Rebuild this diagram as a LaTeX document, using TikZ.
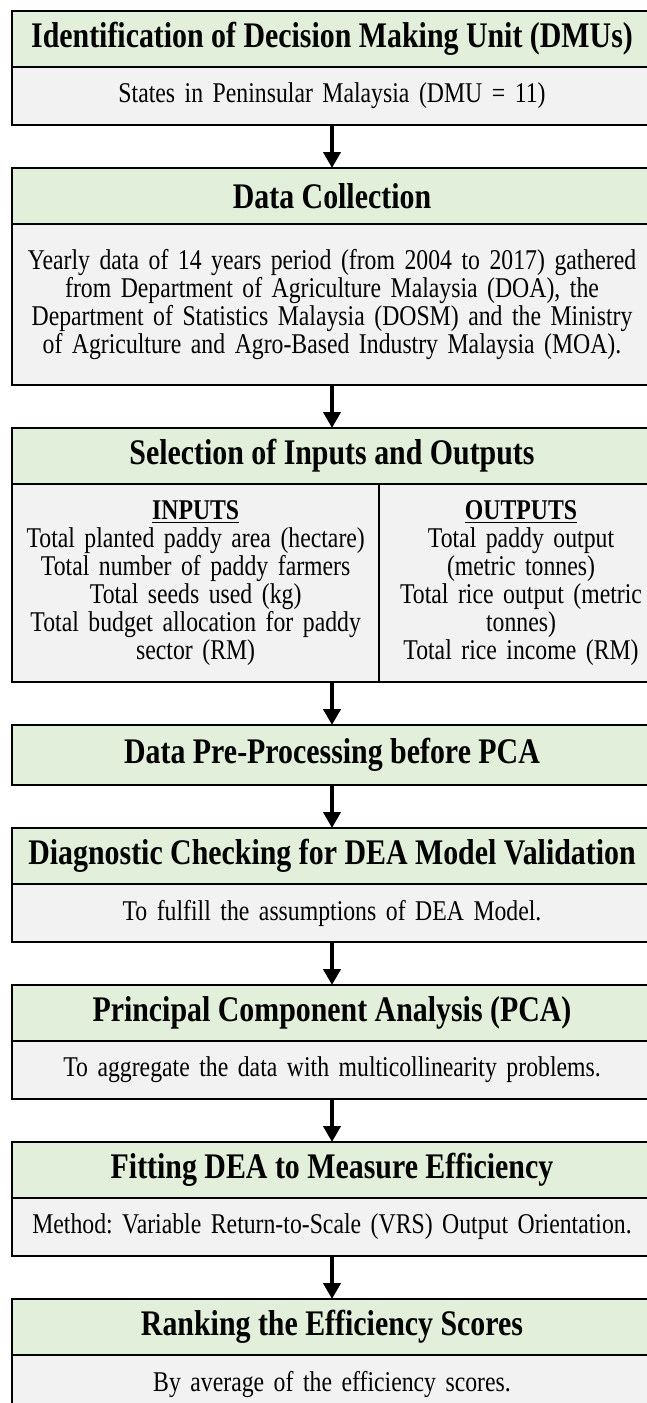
\documentclass[tikz,border=0pt]{standalone}
\usepackage{fontspec}
\setmainfont{Liberation Serif}[FakeStretch=0.83]
\usetikzlibrary{positioning}
\usetikzlibrary{arrows.meta}

\definecolor{headgreen}{HTML}{E2EFDA}
\definecolor{bodygrey}{HTML}{F2F2F2}

\begin{document}
\frenchspacing
\begin{tikzpicture}[
    node distance=21.5pt,
    every node/.style={font=\fontsize{14.3}{14}\selectfont},
    head/.style={rectangle, draw, line width=1pt, fill=headgreen, outer sep=0pt, minimum width=320pt, minimum height=28pt, font=\fontsize{18}{18}\selectfont\bfseries},
    body/.style={rectangle, draw, line width=1pt, fill=bodygrey, outer sep=0pt, minimum width=320pt, minimum height=29pt, text width=312pt, align=center},
    col/.style={rectangle, draw, line width=1pt, fill=bodygrey, outer sep=0pt, minimum height=99pt, align=center, anchor=north west},
    line/.style={-{Triangle[length=8pt, width=8.5pt]}, line width=2pt}
]

\useasboundingbox (0,0) rectangle (323.5pt,-701.5pt);
\clip (0,0) rectangle (323.5pt,-701.5pt);

% Decision making units
\node[head, anchor=north] (dmuHead) at (166pt,-5.5pt) {Identification of Decision Making Unit (DMUs)};
\node[body, below=0pt of dmuHead] (dmuBody) {States in Peninsular Malaysia (DMU = 11)};

% Data collection
\node[head, below=of dmuBody] (collHead) {Data Collection};
\node[body, below=0pt of collHead, minimum height=80.5pt] (collBody) {Yearly data of 14 years period (from 2004 to 2017) gathered\\from Department of Agriculture Malaysia (DOA), the\\Department of Statistics Malaysia (DOSM) and the Ministry\\of Agriculture and Agro-Based Industry Malaysia (MOA).};

% Inputs and outputs in two columns
\node[head, below=of collBody] (selHead) {Selection of Inputs and Outputs};
\node[col, minimum width=181pt, text width=177pt] (inBody) at (selHead.south west) {\textbf{\underline{INPUTS}}\\Total planted paddy area (hectare)\\Total number of paddy farmers\\Total seeds used (kg)\\Total budget allocation for paddy\\sector (RM)};
\node[col, minimum width=139pt, text width=135pt] (outBody) at (inBody.north east) {\textbf{\underline{OUTPUTS}}\\Total paddy output\\(metric tonnes)\\Total rice output (metric\\tonnes)\\Total rice income (RM)};
\coordinate (selEnd) at (selHead.center |- inBody.south);

% Pre-processing
\node[head, below=of selEnd, minimum height=30pt] (preHead) {Data Pre-Processing before PCA};

% Diagnostic checking
\node[head, below=of preHead] (diagHead) {Diagnostic Checking for DEA Model Validation};
\node[body, below=0pt of diagHead] (diagBody) {To fulfill the assumptions of DEA Model.};

% PCA
\node[head, below=of diagBody] (pcaHead) {Principal Component Analysis (PCA)};
\node[body, below=0pt of pcaHead] (pcaBody) {To aggregate the data with multicollinearity problems.};

% DEA fitting
\node[head, below=of pcaBody] (fitHead) {Fitting DEA to Measure Efficiency};
\node[body, below=0pt of fitHead] (fitBody) {Method: Variable Return-to-Scale (VRS) Output Orientation.};

% Ranking
\node[head, below=of fitBody] (rankHead) {Ranking the Efficiency Scores};
\node[body, below=0pt of rankHead] (rankBody) {By average of the efficiency scores.};

% Arrows between steps
\draw[line] (dmuBody.south) -- (collHead.north);
\draw[line] (collBody.south) -- (selHead.north);
\draw[line] (selEnd) -- (preHead.north);
\draw[line] (preHead.south) -- (diagHead.north);
\draw[line] (diagBody.south) -- (pcaHead.north);
\draw[line] (pcaBody.south) -- (fitHead.north);
\draw[line] (fitBody.south) -- (rankHead.north);

\end{tikzpicture}
\end{document}
